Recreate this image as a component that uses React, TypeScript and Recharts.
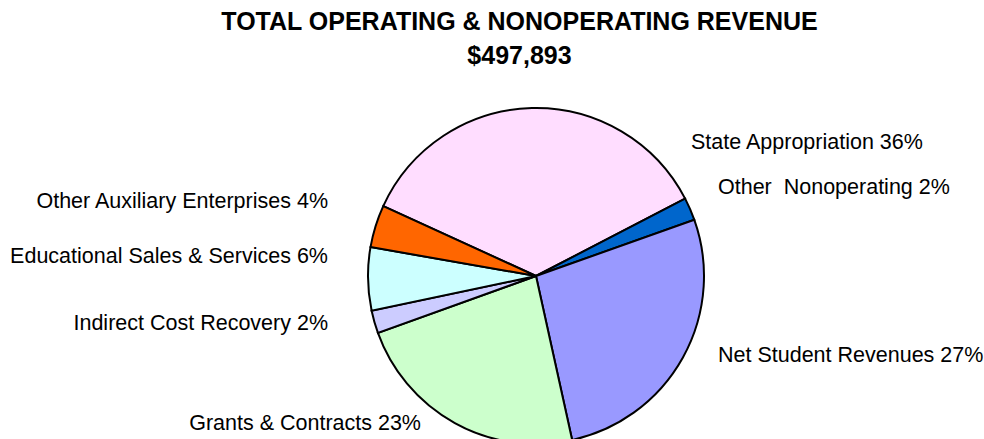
import React from 'react'
import { Cell, Pie, PieChart } from 'recharts'

// revenue in $ thousands, clockwise from the top-left
const categories = [
    'State Appropriation',
    'Other  Nonoperating',
    'Net Student Revenues',
    'Grants & Contracts',
    'Indirect Cost Recovery',
    'Educational Sales & Services',
    'Other Auxiliary Enterprises',
]
const revenue = [177000, 10900, 134300, 114300, 10893, 30200, 20300]
const sliceColors = ['#FFDDFF', '#0066CC', '#9999FF', '#CCFFCC', '#CCCCFF', '#CCFFFF', '#FF6600']
const titleLines = ['TOTAL OPERATING & NONOPERATING REVENUE', '$497,893']

// where each label sits, relative to the pie centre (x, baseline y, anchor)
const labelSpots = [
    [155, -127, 'start'],
    [182, -82, 'start'],
    [182, 86, 'start'],
    [-115, 154, 'end'],
    [-208, 54, 'end'],
    [-208, -13, 'end'],
    [-208, -68, 'end'],
]

const data = categories.map((name, i) => ({ name, value: revenue[i] }))

const font = '"Liberation Sans", Arial, sans-serif'

const renderLabel = (props: any) =>
{
    const { cx, cy, index, percent, name } = props
    const [dx, dy, anchor] = labelSpots[index]
    return (
        <text
            x={cx + dx}
            y={cy + dy}
            textAnchor={anchor}
            fill="#000"
            fontSize={21.5}
            fontFamily={font}
            style={{ whiteSpace: 'pre' }}
        >
            {`${name} ${Math.round(percent * 100)}%`}
        </text>
    )
}

const App = () =>
{
    return (
        <div style={{ position: 'absolute', left: 0, top: 0, width: 984, height: 439, background: '#fff' }}>
            <svg width={984} height={80} style={{ position: 'absolute', left: 0, top: 0 }}>
                {titleLines.map((t, i) => (
                    <text
                        key={t}
                        x={519.5}
                        y={29.5 + i * 34}
                        textAnchor="middle"
                        fontSize={25}
                        fontWeight="bold"
                        fontFamily={font}
                    >
                        {t}
                    </text>
                ))}
            </svg>
            <div style={{ position: 'absolute', left: 0, top: 0 }}>
                <PieChart width={984} height={439} margin={{ top: 0, right: 0, bottom: 0, left: 0 }}>
                    <Pie
                        data={data}
                        dataKey="value"
                        nameKey="name"
                        cx={536}
                        cy={276}
                        outerRadius={168}
                        startAngle={155.4}
                        endAngle={-204.6}
                        stroke="#000"
                        strokeWidth={2}
                        labelLine={false}
                        label={renderLabel}
                        isAnimationActive={false}
                    >
                        {data.map((d, i) => (
                            <Cell key={d.name} fill={sliceColors[i]} />
                        ))}
                    </Pie>
                </PieChart>
            </div>
        </div>
    )
}

export default App
